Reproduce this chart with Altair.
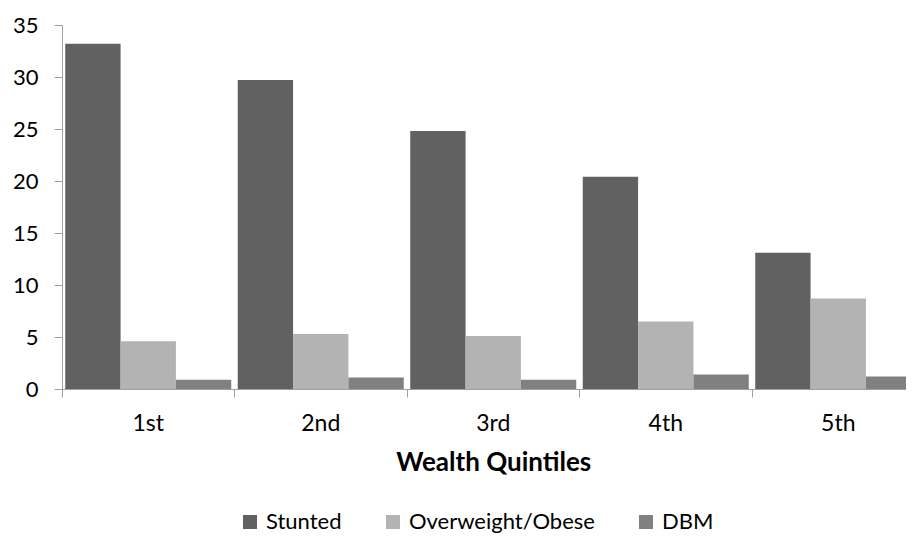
import altair as alt
import pandas as pd

quintiles = ["1st", "2nd", "3rd", "4th", "5th"]
series = ["Stunted", "Overweight/Obese", "DBM"]
stunted = [33.2, 29.7, 24.8, 20.4, 13.1]
overweight = [4.6, 5.3, 5.1, 6.5, 8.7]
dbm = [0.9, 1.1, 0.9, 1.4, 1.2]
colors = ["#616161", "#b3b3b3", "#808080"]
y_ticks = [0, 5, 10, 15, 20, 25, 30, 35]

rows = []
for i, q in enumerate(quintiles):
    for s, vals in zip(series, [stunted, overweight, dbm]):
        rows.append({"q": q, "s": s, "v": vals[i]})
df = pd.DataFrame(rows)

FONT = "Lato"
AXC = "#a0a0a0"

chart = alt.Chart(df).mark_bar().encode(
    x=alt.X(
        "q:N",
        sort=quintiles,
        scale=alt.Scale(range=[0, 862.5], paddingInner=0, paddingOuter=0),
        axis=alt.Axis(
            title="Wealth Quintiles",
            labelAngle=0,
            bandPosition=0,
            labelFont=FONT,
            labelFontSize=23,
            labelColor="#000000",
            labelPadding=15,
            titleFont=FONT,
            titleFontSize=26,
            titleFontWeight="bold",
            titleColor="#000000",
            titlePadding=14,
            domainColor=AXC,
            tickColor=AXC,
            tickSize=8,
        ),
    ),
    xOffset=alt.XOffset(
        "s:N", sort=series, scale=alt.Scale(paddingInner=0, paddingOuter=0.0588)
    ),
    y=alt.Y(
        "v:Q",
        scale=alt.Scale(domain=[0, 35]),
        axis=alt.Axis(
            values=y_ticks,
            title=None,
            grid=False,
            labelFont=FONT,
            labelFontSize=22,
            labelColor="#000000",
            labelPadding=16,
            domainColor=AXC,
            tickColor=AXC,
            tickSize=8,
        ),
    ),
    color=alt.Color(
        "s:N",
        sort=series,
        scale=alt.Scale(domain=series, range=colors),
        legend=alt.Legend(
            title=None,
            orient="none",
            direction="horizontal",
            columns=3,
            legendX=177,
            legendY=486,
            symbolType="square",
            symbolSize=196,
            symbolStrokeWidth=0,
            labelFont=FONT,
            labelFontSize=22,
            labelColor="#000000",
            labelOffset=5,
            labelLimit=0,
            columnPadding=40,
        ),
    ),
).properties(
    width=844,
    height=364,
    padding={"left": 54, "top": 17, "right": 0, "bottom": 145},
    autosize=alt.AutoSizeParams(type="none"),
).configure_view(stroke=None)

chart.save("out.html", embed_options={"renderer": "svg", "actions": False})
